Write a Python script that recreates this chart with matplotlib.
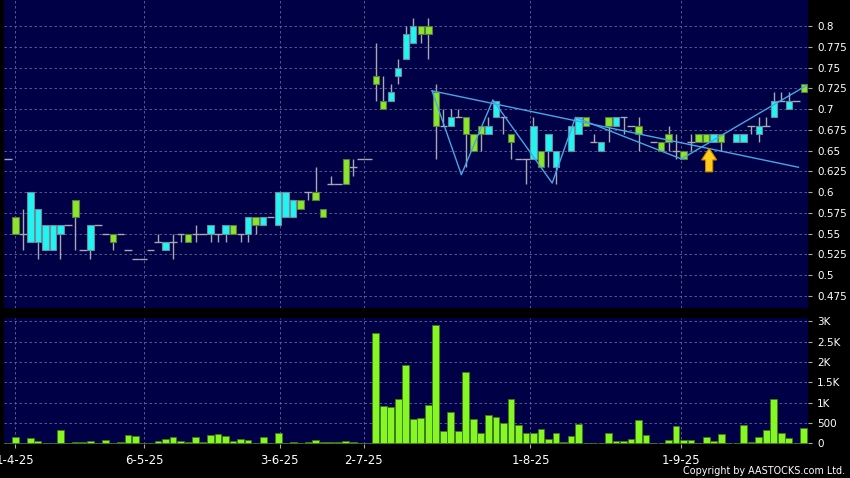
import matplotlib
matplotlib.use("Agg")
import matplotlib.pyplot as plt
import numpy as np
from matplotlib.patches import FancyArrow

nan = float("nan")

# one entry per trading slot, starting at slot -1 (nan = nothing drawn)
opens = [0.64,
         0.57, 0.55, 0.54, 0.54, 0.53, 0.53, 0.55, 0.56, 0.59, 0.53,
         0.53, 0.56, 0.55, 0.55, 0.55, 0.53, 0.52, 0.52, 0.53, 0.54,
         0.53, 0.54, 0.55, 0.55, 0.55, 0.55, 0.55, 0.55, 0.55, 0.56,
         0.55, 0.55, 0.57, 0.56, 0.57, 0.56, 0.57, 0.57, 0.59, 0.60,
         0.60, 0.58, 0.61, 0.61, 0.64, 0.63, 0.64, 0.64, 0.74, 0.71,
         0.71, 0.74, 0.76, 0.78, 0.80, 0.80, 0.72, 0.68, 0.68, 0.69,
         0.69, 0.67, 0.68, 0.67, 0.69, 0.69, 0.67, 0.64, 0.64, 0.64,
         0.65, 0.65, 0.63, nan, 0.65, 0.67, 0.69, 0.66, 0.65, 0.69,
         0.68, 0.69, 0.68, 0.68, nan, 0.66, 0.66, 0.67, 0.65, 0.65,
         0.66, 0.67, 0.67, 0.66, 0.67, nan, 0.66, 0.66, 0.68, 0.67,
         0.68, 0.69, 0.71, 0.70, 0.71, 0.73]
highs = [0.64,
         0.57, 0.58, 0.60, 0.58, 0.56, 0.56, 0.56, 0.56, 0.59, 0.53,
         0.56, 0.56, 0.55, 0.55, 0.55, 0.53, 0.52, 0.52, 0.53, 0.55,
         0.54, 0.55, 0.55, 0.55, 0.56, 0.55, 0.56, 0.55, 0.56, 0.56,
         0.55, 0.57, 0.57, 0.57, 0.57, 0.60, 0.60, 0.59, 0.59, 0.60,
         0.63, 0.58, 0.62, 0.61, 0.64, 0.64, 0.64, 0.64, 0.78, 0.74,
         0.73, 0.76, 0.80, 0.81, 0.80, 0.81, 0.73, 0.70, 0.70, 0.70,
         0.69, 0.67, 0.68, 0.69, 0.71, 0.69, 0.67, 0.64, 0.64, 0.69,
         0.65, 0.67, 0.65, nan, 0.68, 0.69, 0.69, 0.67, 0.66, 0.69,
         0.69, 0.69, 0.68, 0.69, nan, 0.66, 0.66, 0.68, 0.67, 0.65,
         0.67, 0.67, 0.67, 0.67, 0.67, nan, 0.67, 0.67, 0.68, 0.69,
         0.69, 0.72, 0.72, 0.72, 0.71, 0.73]
lows = [0.64,
        0.55, 0.53, 0.54, 0.52, 0.53, 0.53, 0.52, 0.56, 0.53, 0.53,
        0.52, 0.56, 0.55, 0.53, 0.55, 0.53, 0.52, 0.52, 0.53, 0.54,
        0.53, 0.52, 0.54, 0.54, 0.54, 0.55, 0.54, 0.54, 0.54, 0.55,
        0.54, 0.54, 0.55, 0.56, 0.57, 0.56, 0.57, 0.57, 0.58, 0.59,
        0.59, 0.57, 0.61, 0.61, 0.61, 0.62, 0.64, 0.64, 0.71, 0.70,
        0.71, 0.73, 0.76, 0.78, 0.78, 0.76, 0.64, 0.68, 0.68, 0.69,
        0.63, 0.65, 0.65, 0.67, 0.69, 0.67, 0.64, 0.64, 0.61, 0.64,
        0.63, 0.63, 0.61, nan, 0.65, 0.67, 0.68, 0.66, 0.65, 0.66,
        0.68, 0.67, 0.68, 0.65, nan, 0.66, 0.65, 0.65, 0.64, 0.64,
        0.65, 0.66, 0.66, 0.66, 0.65, nan, 0.66, 0.66, 0.67, 0.66,
        0.68, 0.69, 0.71, 0.70, 0.71, 0.72]
closes = [0.64,
          0.55, 0.55, 0.60, 0.58, 0.56, 0.56, 0.56, 0.56, 0.57, 0.53,
          0.56, 0.56, 0.55, 0.54, 0.55, 0.53, 0.52, 0.52, 0.53, 0.54,
          0.54, 0.54, 0.55, 0.54, 0.55, 0.55, 0.56, 0.55, 0.56, 0.55,
          0.55, 0.57, 0.56, 0.57, 0.57, 0.60, 0.60, 0.59, 0.58, 0.60,
          0.59, 0.57, 0.61, 0.61, 0.61, 0.63, 0.64, 0.64, 0.73, 0.70,
          0.72, 0.75, 0.79, 0.80, 0.79, 0.79, 0.68, 0.68, 0.69, 0.69,
          0.67, 0.65, 0.67, 0.68, 0.71, 0.69, 0.66, 0.64, 0.64, 0.68,
          0.63, 0.67, 0.65, nan, 0.68, 0.69, 0.68, 0.66, 0.66, 0.68,
          0.69, 0.69, 0.68, 0.67, nan, 0.66, 0.65, 0.66, 0.65, 0.64,
          0.66, 0.66, 0.66, 0.67, 0.66, nan, 0.67, 0.67, 0.68, 0.68,
          0.68, 0.71, 0.71, 0.71, 0.71, 0.72]
volume = [0,
          148, 0, 123, 57, 0, 0, 320, 0, 33, 33,
          57, 0, 74, 0, 33, 205, 180, 0, 0, 49,
          107, 148, 57, 33, 156, 33, 205, 221, 180, 57,
          98, 82, 0, 164, 0, 246, 0, 40, 16, 33,
          74, 33, 33, 33, 49, 25, 0, 0, 2713, 918,
          885, 1082, 1926, 598, 623, 934, 2910, 303, 770, 295,
          1754, 598, 254, 689, 648, 500, 1082, 451, 254, 254,
          361, 115, 254, 33, 172, 484, 16, 0, 0, 246,
          49, 49, 107, 574, 197, 16, 0, 82, 426, 74,
          74, 0, 156, 49, 238, 0, 0, 451, 41, 156,
          328, 1082, 262, 139, 0, 369]
first_slot = -1

date_ticks = [0.0, 17.2, 35.2, 46.4, 68.6, 88.7]
date_labels = ["1-4-25", "6-5-25", "3-6-25", "2-7-25", "1-8-25", "1-9-25"]
price_ticks = [0.475, 0.5, 0.525, 0.55, 0.575, 0.6, 0.625, 0.65, 0.675, 0.7, 0.725, 0.75, 0.775, 0.8]
vol_ticks = [0, 500, 1000, 1500, 2000, 2500, 3000]
vol_labels = ["0", "500", "1K", "1.5K", "2K", "2.5K", "3K"]

# hand drawn trend lines (slot, price)
trend_x = [55.5, 104.3]
trend_y = [0.722, 0.630]
zigzag_x = [55.5, 59.4, 63.6, 71.5, 74.6, 88.7, 105.3]
zigzag_y = [0.722, 0.621, 0.711, 0.611, 0.690, 0.640, 0.728]
arrow_slot = 92.4
arrow_base = 0.6245
arrow_tip = 0.6528

BG = "#000046"
GRID = "#66669a"
CYAN = "#22f4f4"
GREEN = "#8ae62a"
WICK = "#a8a8b0"

x = np.arange(len(opens)) + first_slot
o = np.array(opens)
h = np.array(highs)
l = np.array(lows)
c = np.array(closes)

fig = plt.figure(figsize=(8.5, 4.78), dpi=100, facecolor="black")
ax = fig.add_axes([4 / 850, 1 - 308 / 478, 803.5 / 850, 308 / 478])
ax2 = fig.add_axes([4 / 850, 1 - 444 / 478, 803.5 / 850, 126 / 478], sharex=ax)

for a in (ax, ax2):
    a.set_facecolor(BG)
    for s in a.spines.values():
        s.set_visible(False)
    a.grid(True, color=GRID, linestyle=(0, (3, 3)), linewidth=0.6)
    a.set_axisbelow(True)
    a.yaxis.tick_right()
    a.tick_params(axis="y", length=3, color="#aaaaaa", labelcolor="white",
                  labelsize=7.5, pad=4)

ok = ~np.isnan(o)
doji = ok & (o == c)
body = ok & (o != c)

# wicks
ax.vlines(x[ok], l[ok], h[ok], color=WICK, linewidth=1, zorder=2)
# flat days
ax.hlines(c[doji], x[doji] - 0.5, x[doji] + 0.5, color=WICK, linewidth=1, zorder=2)
# bodies
up = body & (c > o)
down = body & (c < o)
ax.bar(x[up], c[up] - o[up], bottom=o[up], width=0.85, color=CYAN,
       edgecolor="#6a8c9c", linewidth=0.8, zorder=3)
ax.bar(x[down], o[down] - c[down], bottom=c[down], width=0.85, color=GREEN,
       edgecolor="#5a7a40", linewidth=0.8, zorder=3)

ax.plot(trend_x, trend_y, color="#46a6e6", linewidth=1, zorder=4)
ax.plot(zigzag_x, zigzag_y, color="#46a6e6", linewidth=1, zorder=4)
ax.add_patch(FancyArrow(arrow_slot, arrow_base, 0, arrow_tip - arrow_base,
                        width=0.95, head_width=2.0, head_length=0.014,
                        length_includes_head=True, facecolor="#ffcc1a",
                        edgecolor="#c88a00", linewidth=0.8, zorder=5))

ax.set_xlim(-1.51, 105.5)
ax.set_ylim(0.4606, 0.8313)
ax.set_yticks(price_ticks)
ax.set_yticklabels([f"{round(v, 3):g}" for v in price_ticks])
ax.tick_params(axis="x", bottom=False, labelbottom=False)

vol = np.array(volume, dtype=float)
ax2.bar(x, vol, width=0.9, color="#86f724", edgecolor="#3f7a14", linewidth=0.6, zorder=3)
ax2.set_ylim(-15, 3080)
ax2.set_yticks(vol_ticks)
ax2.set_yticklabels(vol_labels)
ax2.set_xticks(date_ticks)
ax2.set_xticklabels(date_labels)
ax2.tick_params(axis="x", length=3, color="#aaaaaa", labelcolor="white",
                labelsize=8.5, pad=4)

fig.text(0.994, 1 - 471 / 478, "Copyright by AASTOCKS.com Ltd.", ha="right",
         va="center", color="white", fontsize=6.9)

fig.savefig("out.png", dpi=100, facecolor="black")
